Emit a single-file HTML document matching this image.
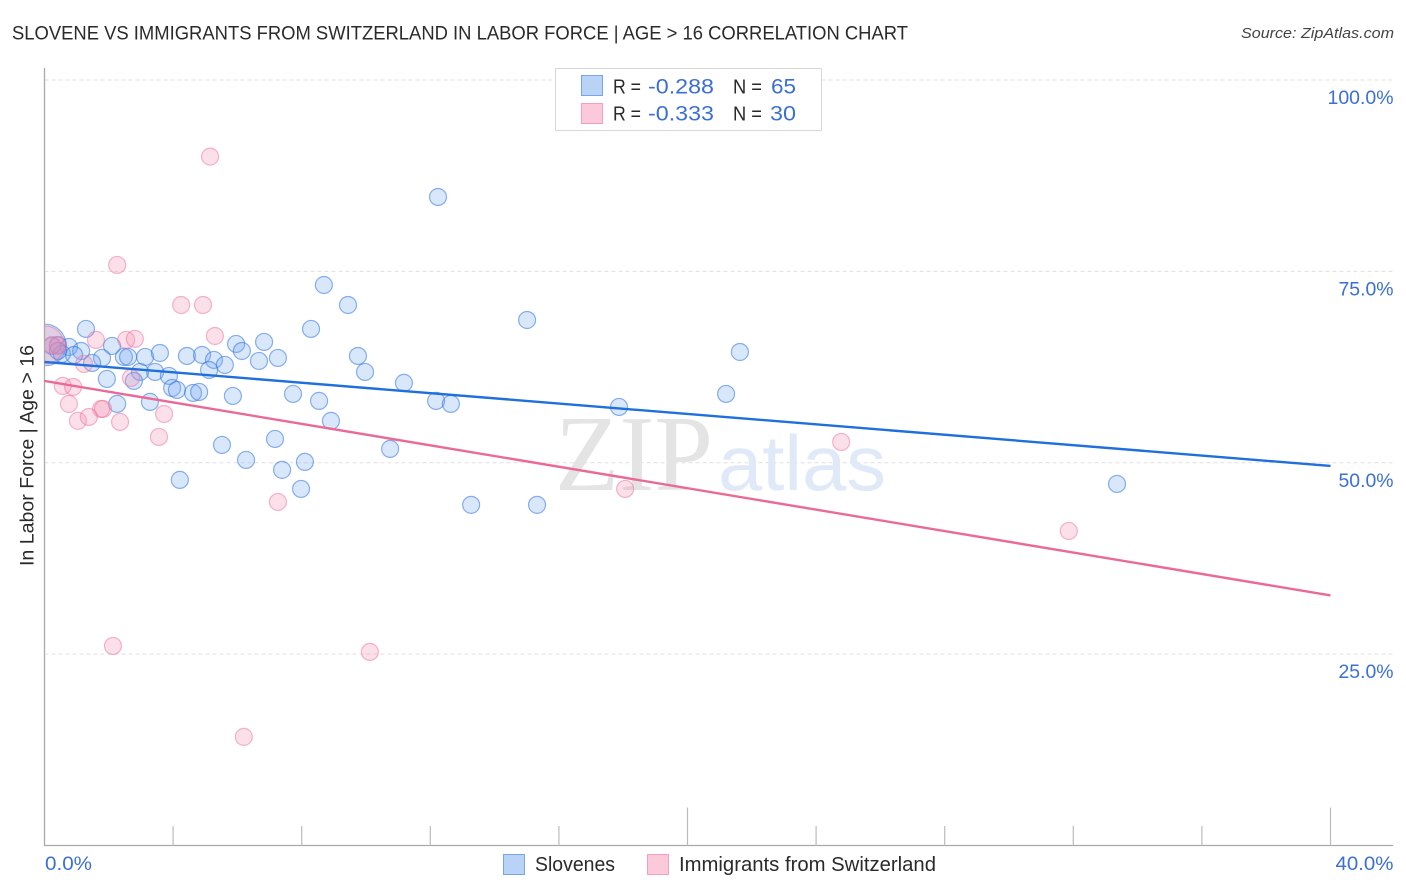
<!DOCTYPE html>
<html lang="en">
<head>
<meta charset="utf-8">
<title>Slovene vs Immigrants from Switzerland in Labor Force Correlation Chart</title>
<style>
html,body{margin:0;padding:0;background:#fff;}
svg{display:block;font-family:"Liberation Sans",sans-serif;}
</style>
</head>
<body>
<svg id="chart" xmlns="http://www.w3.org/2000/svg" width="1406" height="892" viewBox="0 0 1406 892">
  <text x="12" y="39.5" font-size="19.5" fill="#2a2a2a" textLength="896" lengthAdjust="spacingAndGlyphs">SLOVENE VS IMMIGRANTS FROM SWITZERLAND IN LABOR FORCE | AGE &gt; 16 CORRELATION CHART</text>
  <text x="1241" y="38" font-size="15" font-style="italic" fill="#444" textLength="153" lengthAdjust="spacingAndGlyphs">Source: ZipAtlas.com</text>
  <g id="grid"></g>
  <g>
    <text x="555" y="490" font-family="'Liberation Serif',serif" font-size="108" fill="#e4e4e4" textLength="158" lengthAdjust="spacingAndGlyphs">ZIP</text>
    <text x="718" y="490" font-family="'Liberation Sans',sans-serif" font-size="78" fill="#e0e9f8" textLength="168" lengthAdjust="spacingAndGlyphs">atlas</text>
  </g>
  <g id="points"></g>
  <rect x="0" y="60" width="44" height="786" fill="#fff"/>
  <g id="axes"></g>
  <g id="trends"></g>
  <g id="labels"></g>
  <text transform="translate(33.5,566) rotate(-90)" font-size="19.5" fill="#2a2a2a" textLength="221" lengthAdjust="spacingAndGlyphs">In Labor Force | Age &gt; 16</text>

  <g>
    <rect x="555.5" y="68.5" width="266" height="62" fill="#fff" stroke="#d8d8d8" stroke-width="1"/>
    <rect x="581.5" y="75.5" width="21" height="20" fill="#b9d3f7" stroke="#77a5e8" stroke-width="1"/>
    <rect x="581.5" y="103.5" width="21" height="20" fill="#fcc9da" stroke="#f3a0bd" stroke-width="1"/>
    <text x="613" y="93.5" font-size="20" fill="#2a2a2a" textLength="28" lengthAdjust="spacingAndGlyphs">R =</text>
    <text x="648" y="93.5" font-size="21" fill="#3b6fd4" textLength="66" lengthAdjust="spacingAndGlyphs">-0.288</text>
    <text x="733" y="93.5" font-size="20" fill="#2a2a2a" textLength="29" lengthAdjust="spacingAndGlyphs">N =</text>
    <text x="771" y="93.5" font-size="21" fill="#3b6fd4" textLength="25" lengthAdjust="spacingAndGlyphs">65</text>
    <text x="613" y="120.5" font-size="20" fill="#2a2a2a" textLength="28" lengthAdjust="spacingAndGlyphs">R =</text>
    <text x="648" y="120.5" font-size="21" fill="#3b6fd4" textLength="66" lengthAdjust="spacingAndGlyphs">-0.333</text>
    <text x="733" y="120.5" font-size="20" fill="#2a2a2a" textLength="29" lengthAdjust="spacingAndGlyphs">N =</text>
    <text x="770" y="120.5" font-size="21" fill="#3b6fd4" textLength="26" lengthAdjust="spacingAndGlyphs">30</text>
  </g>

  <g>
    <rect x="503.5" y="854.5" width="21" height="20" fill="#b9d3f7" stroke="#77a5e8" stroke-width="1"/>
    <text x="535" y="871" font-size="20" fill="#2a2a2a" textLength="80" lengthAdjust="spacingAndGlyphs">Slovenes</text>
    <rect x="647.5" y="854.5" width="21" height="20" fill="#fcc9da" stroke="#f3a0bd" stroke-width="1"/>
    <text x="679" y="871" font-size="20" fill="#2a2a2a" textLength="257" lengthAdjust="spacingAndGlyphs">Immigrants from Switzerland</text>
  </g>
</svg>
<script>
const sloveneX = [12.24,8.69,9.44,15.01,1.29,8.29,6.83,5.96,21.63,2.10,6.14,0.42,0.76,1.14,0.23,0.02,0.54,0.92,1.79,2.47,2.60,3.13,3.59,4.43,4.90,5.27,5.61,6.67,7.26,9.75,9.97,5.12,3.44,2.97,1.48,1.94,2.78,3.87,3.97,4.12,4.62,4.81,5.86,7.73,8.54,11.18,12.18,12.64,17.87,21.20,2.26,3.28,8.91,10.75,5.52,7.17,6.27,8.10,7.39,7.98,4.21,13.27,15.32,33.36,0.42];
const sloveneY = [84.72,73.22,70.61,68.65,67.48,67.48,65.78,65.52,64.47,65.26,64.60,65.39,65.13,64.60,65.26,65.38,64.21,64.08,63.69,63.82,63.82,63.82,64.34,63.95,64.08,63.43,62.78,63.30,63.69,63.95,61.86,62.12,61.86,61.86,63.04,60.95,60.69,61.34,59.77,59.51,59.12,59.25,58.73,58.99,58.08,60.43,58.08,57.69,57.29,58.99,57.69,57.95,55.47,51.81,52.33,53.11,50.37,50.11,49.07,46.58,47.76,44.50,44.50,47.23,64.60];
const sloveneWeight = [1,1,1,1,1,1,1,1,1,1,1,1,1,1,1,6,1,1,1,1,1,1,1,1,1,1,1,1,1,1,1,1,1,1,1,1,1,1,1,1,1,1,1,1,1,1,1,1,1,1,1,1,1,1,1,1,1,1,1,1,1,1,1,1,1];
const immigrantX = [5.15,2.26,4.25,4.93,5.30,1.60,2.54,2.81,1.23,2.69,0.57,0.89,0.76,1.76,1.82,3.72,1.04,1.38,2.35,3.56,24.78,7.26,18.06,31.86,2.13,10.12,6.20,0.23,0.42,0.02];
const immigrantY = [89.99,75.84,70.61,70.61,66.56,66.05,66.05,66.18,62.91,61.08,60.04,59.90,57.69,57.03,57.03,56.37,55.47,55.98,55.33,53.37,52.72,44.88,46.58,41.09,26.07,25.29,14.19,65.39,65.26,65.38];
const immigrantWeight = [1,1,1,1,1,1,1,1,1,1,1,1,1,1,1,1,1,1,1,1,1,1,1,1,1,1,1,1,1,5];
const sloveneTrendX = [0, 40];
const sloveneTrendY = [63.17, 49.58];
const immigrantTrendX = [0, 40];
const immigrantTrendY = [60.68, 32.67];
const xTickValues = [0,4,8,12,16,20,24,28,32,36,40];
const xMajorTicks = [20,40];
const yTickValues = [100,75,50,25];
const yTickLabels = ['100.0%','75.0%','50.0%','25.0%'];
const xEndValues = [0,40];
const xEndLabels = ['0.0%','40.0%'];

const NS = 'http://www.w3.org/2000/svg';
const sx = v => 44.5 + v * (1330.5 - 44.5) / 40;
const sy = v => 845.5 - v * (845.5 - 80) / 100;
const radius = w => 8.5 * Math.sqrt(w);

function make(parent, tag, attrs) {
  const el = document.createElementNS(NS, tag);
  for (const k in attrs) el.setAttribute(k, attrs[k]);
  parent.appendChild(el);
  return el;
}

const grid = document.getElementById('grid');
const axes = document.getElementById('axes');
const points = document.getElementById('points');
const trends = document.getElementById('trends');
const labels = document.getElementById('labels');

yTickValues.forEach(v => {
  const line = make(grid, 'line', {x1: 44.5, x2: 1393, y1: sy(v), y2: sy(v), stroke: '#e0e0e0', 'stroke-width': 1, 'stroke-dasharray': '4 3'});
  
  
});

const yAxis = make(axes, 'line', {x1: 44.5, x2: 44.5, y1: 68, y2: 846, stroke: '#aaa', 'stroke-width': 1.3});


const xAxis = make(axes, 'line', {x1: 44, x2: 1393, y1: 845.5, y2: 845.5, stroke: '#aaa', 'stroke-width': 1.3});



xTickValues.slice(1).forEach(v => {
  const top = xMajorTicks.includes(v) ? 807.5 : 826;
  const tick = make(axes, 'line', {x1: sx(v), x2: sx(v), y1: top, y2: 845.5, stroke: '#bbb', 'stroke-width': 1.2});
  
  
});

function drawSeries(xs, ys, ws, fill, stroke, name) {
  xs.forEach((x, i) => {
    const c = make(points, 'circle', {cx: sx(x), cy: sy(ys[i]), r: radius(ws[i]), fill: fill, stroke: stroke, 'stroke-width': 1.2});
    
    
  });
}
drawSeries(sloveneX, sloveneY, sloveneWeight, 'rgba(115,165,240,0.27)', 'rgba(45,115,220,0.55)', 'slovenes-point');
drawSeries(immigrantX, immigrantY, immigrantWeight, 'rgba(245,140,175,0.27)', 'rgba(235,110,155,0.5)', 'immigrants-point');

const blueLine = make(trends, 'line', {x1: sx(sloveneTrendX[0]), x2: sx(sloveneTrendX[1]), y1: sy(sloveneTrendY[0]), y2: sy(sloveneTrendY[1]), stroke: '#1f6fdc', 'stroke-width': 2.4});


const pinkLine = make(trends, 'line', {x1: sx(immigrantTrendX[0]), x2: sx(immigrantTrendX[1]), y1: sy(immigrantTrendY[0]), y2: sy(immigrantTrendY[1]), stroke: '#ea6a97', 'stroke-width': 2.4});



yTickValues.forEach((v, i) => {
  const t = make(labels, 'text', {x: 1393.5, y: sy(v) + 24, 'text-anchor': 'end', 'font-size': 19, fill: '#3b6fd4', textLength: i === 0 ? 66 : 55, lengthAdjust: 'spacingAndGlyphs'});
  t.textContent = yTickLabels[i];
  
  
});
xEndValues.forEach((v, i) => {
  const t = make(labels, 'text', {x: i === 0 ? 45 : 1393.5, y: 870, 'text-anchor': i === 0 ? 'start' : 'end', 'font-size': 19, fill: '#3b6fd4', textLength: i === 0 ? 47 : 58, lengthAdjust: 'spacingAndGlyphs'});
  t.textContent = xEndLabels[i];
  
  
});
</script>
</body>
</html>
